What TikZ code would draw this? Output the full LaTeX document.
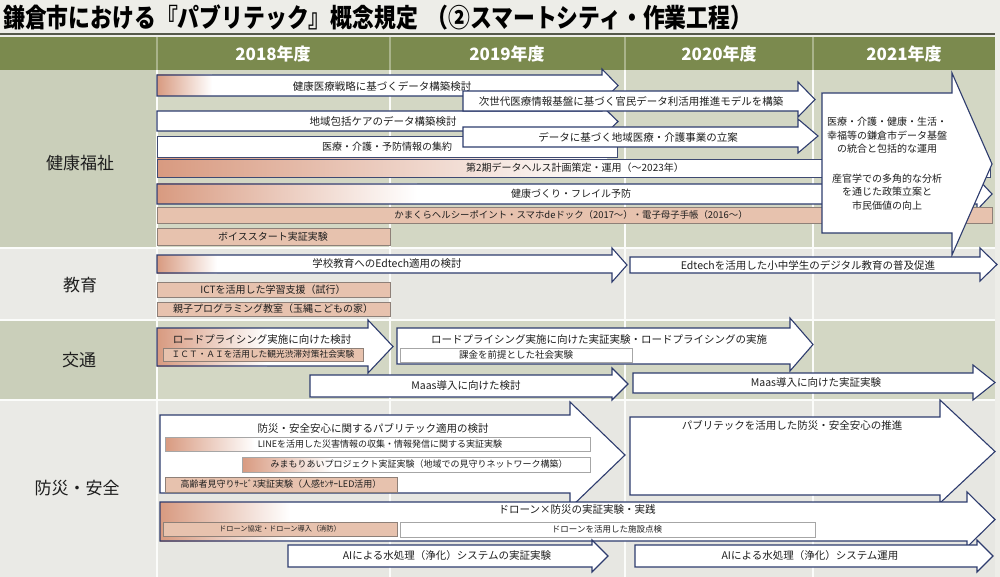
\documentclass[tikz,border=0pt]{standalone}
\usepackage{fontspec}
\setmainfont{Noto Sans CJK JP}
\definecolor{pagebg}{HTML}{EDEDE8}
\definecolor{olive}{HTML}{7B8A4E}
\definecolor{oliveln}{HTML}{A9B38A}
\definecolor{secA}{HTML}{D3D7C4}
\definecolor{secAl}{HTML}{CACFBA}
\definecolor{secB}{HTML}{E7E7E2}
\definecolor{secBl}{HTML}{EAEAE6}
\definecolor{navy}{HTML}{2E3C6E}
\definecolor{salm}{HTML}{D89A80}
\definecolor{salm2}{HTML}{E7C2AE}
\definecolor{salbd}{HTML}{8E8078}
\definecolor{txtc}{HTML}{1E1E1E}
\definecolor{titleln}{HTML}{55594A}
\tikzset{
  arrline/.style={draw=navy, line width=1.1pt, line join=miter},
  boxln/.style={draw=navy!80!gray, line width=0.9pt},
  salln/.style={draw=salbd, line width=0.8pt},
  txt/.style={inner sep=0pt, text=txtc, font=\fontsize{10.5}{12}\selectfont},
  stxt/.style={inner sep=0pt, text=txtc, font=\fontsize{9}{10}\selectfont},
  htxt/.style={inner sep=0pt, text=white, font=\fontsize{17}{18}\selectfont\bfseries},
  ltxt/.style={inner sep=0pt, text=txtc, font=\fontsize{17}{18}\selectfont},
  sepln/.style={draw=white!92!secA, line width=1.5pt}
}
% x0, box top, box bottom, head base x, head top, head bottom, tip x, left colour, fade width
\newcommand\parrow[9]{%
  \fill[white] (#1,#2) -- (#4,#2) -- (#4,#5) -- (#7,{(#5+#6)/2}) -- (#4,#6) -- (#4,#3) -- (#1,#3) -- cycle;
  \shade[left color=#8, right color=white] (#1,#2) rectangle ({#1+#9},#3);
  \draw[arrline] (#1,#2) -- (#4,#2) -- (#4,#5) -- (#7,{(#5+#6)/2}) -- (#4,#6) -- (#4,#3) -- (#1,#3) -- cycle;
}
% x0, y0, x1, y1, fade width, left colour, border style
\newcommand\grect[7]{%
  \fill[white] (#1,#2) rectangle (#3,#4);
  \shade[left color=#6, right color=white] (#1,#2) rectangle ({#1+#5},#4);
  \draw[#7] (#1,#2) rectangle (#3,#4);
}
\begin{document}
\begin{tikzpicture}[x=1pt,y=-1pt]
\useasboundingbox (0,0) rectangle (1000,577);
\fill[pagebg] (0,0) rectangle (1000,577);
% title
\node[anchor=west, inner sep=0pt] (title) at (3,17) {\scalebox{0.84}[1]{\fontsize{26}{26}\selectfont\bfseries 鎌倉市における『パブリテック』概念規定\hspace{10pt}（②スマートシティ・作業工程）}};
\draw[titleln, line width=1.5pt] (0,34) -- (995,34);
% header
\fill[olive] (0,37) rectangle (995,70);
\foreach \x in {157,390,625,813} \draw[oliveln, line width=1.2pt] (\x,37) -- (\x,70);
\node[htxt] (h2018) at (273,54) {2018年度};
\node[htxt] (h2019) at (507,54) {2019年度};
\node[htxt] (h2020) at (719,54) {2020年度};
\node[htxt] (h2021) at (904,54) {2021年度};
% section backgrounds
\fill[secAl] (0,70) rectangle (157,248);
\fill[secA] (157,70) rectangle (995,248);
\fill[secBl] (0,248) rectangle (157,320);
\fill[secB] (157,248) rectangle (995,320);
\fill[secAl] (0,320) rectangle (157,400);
\fill[secA] (157,320) rectangle (995,400);
\fill[secBl] (0,400) rectangle (157,577);
\fill[secB] (157,400) rectangle (995,577);
\foreach \x in {157,390,625,813} \draw[sepln] (\x,70) -- (\x,577);
\foreach \y in {248,320,400} \draw[sepln] (0,\y) -- (995,\y);
% section labels
\node[ltxt] (lkenko) at (80,163) {健康福祉};
\node[ltxt] (lkyoiku) at (80,285) {教育};
\node[ltxt] (lkotsu) at (79,360) {交通};
\node[ltxt] (lbosai) at (77,488) {防災・安全};

% ===== 健康福祉 =====
\grect{157}{159}{990}{177}{450}{salm}{boxln}
\node[txt, font=\fontsize{10}{12}\selectfont] (t6) at (575,168) {第2期データヘルス計画策定・運用（～2023年）};
\parrow{157}{184}{204}{977}{178}{210}{992}{salm}{260}
\node[txt, font=\fontsize{10}{12}\selectfont] (t7) at (571,194) {健康づくり・フレイル予防};
\fill[salm2] (157,207) rectangle (992,223);
\draw[salln] (157,207) rectangle (992,223);
\node[txt, font=\fontsize{9.4}{11}\selectfont] (t8) at (571,215) {かまくらヘルシーポイント・スマホdeドック（2017～）・電子母子手帳（2016～）};
\fill[salm2] (157,228) rectangle (390,245);
\draw[salln] (157,228) rectangle (390,245);
\node[txt, font=\fontsize{10}{12}\selectfont] (t9) at (273,236.5) {ボイススタート実証実験};

\parrow{157}{75}{96}{602}{69}{102}{618}{salm}{55}
\node[txt] (t1) at (382,86) {健康医療戦略に基づくデータ構築検討};
\parrow{157}{111}{131}{602}{106}{137}{618}{white}{1}
\node[txt] (t3) at (383,121) {地域包括ケアのデータ構築検討};
\fill[white] (157,136) rectangle (617,157);
\draw[boxln] (157,136) rectangle (617,157);
\node[txt, font=\fontsize{10}{12}\selectfont] (t5) at (387,147) {医療・介護・予防情報の集約};
\parrow{463}{91}{111}{798}{82}{117}{815}{white}{1}
\node[txt] (t2) at (631,101) {次世代医療情報基盤に基づく官民データ利活用推進モデルを構築};
\parrow{463}{127}{147}{798}{119}{153}{818}{white}{1}
\node[txt] (t4) at (638,137) {データに基づく地域医療・介護事業の立案};

% 2021 big arrow
\parrow{822}{93}{233}{952}{73}{255}{992}{white}{1}
\node[txt, font=\fontsize{10}{13.5}\selectfont, align=center] (t21) at (887,163.5) {医療・介護・健康・生活・\\幸福等の鎌倉市データ基盤\\の統合と包括的な運用\\[16pt]産官学での多角的な分析\\を通じた政策立案と\\市民価値の向上};

% ===== 教育 =====
\parrow{157}{255}{273}{612}{248}{282}{627}{salm}{60}
\node[txt] (t10) at (387,264) {学校教育へのEdtech適用の検討};
\parrow{630}{257}{273}{980}{248}{281}{997}{white}{1}
\node[txt] (t11) at (808,265) {Edtechを活用した小中学生のデジタル教育の普及促進};
\fill[salm2] (157,282) rectangle (390,297);
\draw[salln] (157,282) rectangle (390,297);
\node[txt, font=\fontsize{10}{12}\selectfont] (t12) at (273,289.5) {ICTを活用した学習支援（試行）};
\fill[salm2] (157,302) rectangle (390,316);
\draw[salln] (157,302) rectangle (390,316);
\node[txt, font=\fontsize{10}{12}\selectfont] (t13) at (273,309) {親子プログラミング教室（玉縄こどもの家）};

% ===== 交通 =====
\parrow{157}{328}{366}{368}{320}{373}{393}{salm}{110}
\node[txt] (t14) at (262,340) {ロードプライシング実施に向けた検討};
\fill[salm2] (163,348) rectangle (363,361);
\draw[salln] (163,348) rectangle (363,361);
\node[txt, font=\fontsize{8.7}{10}\selectfont] (t14b) at (263,354.5) {ＩＣＴ・ＡＩを活用した観光渋滞対策社会実験};
\parrow{397}{328}{364}{790}{318}{371}{813}{white}{1}
\node[txt] (t15) at (599,340) {ロードプライシング実施に向けた実証実験・ロードプライシングの実施};
\fill[white] (400,348) rectangle (632,362);
\draw[draw=gray!70, line width=0.8pt] (400,348) rectangle (632,362);
\node[txt, font=\fontsize{9.5}{11}\selectfont] (t15b) at (516,355) {課金を前提とした社会実験};
\parrow{310}{375}{397}{612}{368}{400}{628}{white}{1}
\node[txt] (t16) at (466,386) {Maas導入に向けた検討};
\parrow{633}{373}{393}{973}{365}{400}{995}{white}{1}
\node[txt] (t17) at (816,383) {Maas導入に向けた実証実験};

% ===== 防災・安全 =====
\parrow{160}{415}{493}{570}{402}{508}{625}{white}{1}
\node[txt] (t18) at (373,428) {防災・安全安心に関するパブリテック適用の検討};
\grect{165}{437}{590}{451}{90}{salm}{draw=gray!70, line width=0.8pt}
\node[stxt] (t18a) at (380,444) {LINEを活用した災害情報の収集・情報発信に関する実証実験};
\grect{242}{457}{590}{472}{90}{salm}{draw=gray!70, line width=0.8pt}
\node[stxt] (t18b) at (419,464.5) {みまもりあいプロジェクト実証実験（地域での見守りネットワーク構築）};
\fill[salm2] (165,477) rectangle (397,492);
\draw[salln] (165,477) rectangle (397,492);
\node[stxt] (t18c) at (281,484.5) {高齢者見守りｻｰﾋﾞｽ実証実験（人感ｾﾝｻｰLED活用）};

\parrow{630}{417}{495}{940}{400}{503}{995}{white}{1}
\node[txt] (t19) at (792,425) {パブリテックを活用した防災・安全安心の推進};

\parrow{160}{502}{541}{967}{492}{547}{995}{salm}{130}
\node[txt] (t20) at (577,510) {ドローン×防災の実証実験・実践};
\fill[salm2] (163,522) rectangle (397,536);
\draw[salln] (163,522) rectangle (397,536);
\node[txt, font=\fontsize{7.2}{8}\selectfont] (t20a) at (280,529) {ドローン協定・ドローン導入（消防）};
\fill[white] (400,522) rectangle (815,537);
\draw[draw=gray!70, line width=0.8pt] (400,522) rectangle (815,537);
\node[txt, font=\fontsize{8.5}{10}\selectfont] (t20b) at (607,529.5) {ドローンを活用した施設点検};

\parrow{288}{545}{567}{592}{540}{572}{608}{white}{1}
\node[txt] (t21a) at (447,556) {AIによる水処理（浄化）システムの実証実験};
\parrow{635}{545}{567}{977}{540}{572}{993}{white}{1}
\node[txt] (t22) at (810,556) {AIによる水処理（浄化）システム運用};
\end{tikzpicture}
\end{document}
